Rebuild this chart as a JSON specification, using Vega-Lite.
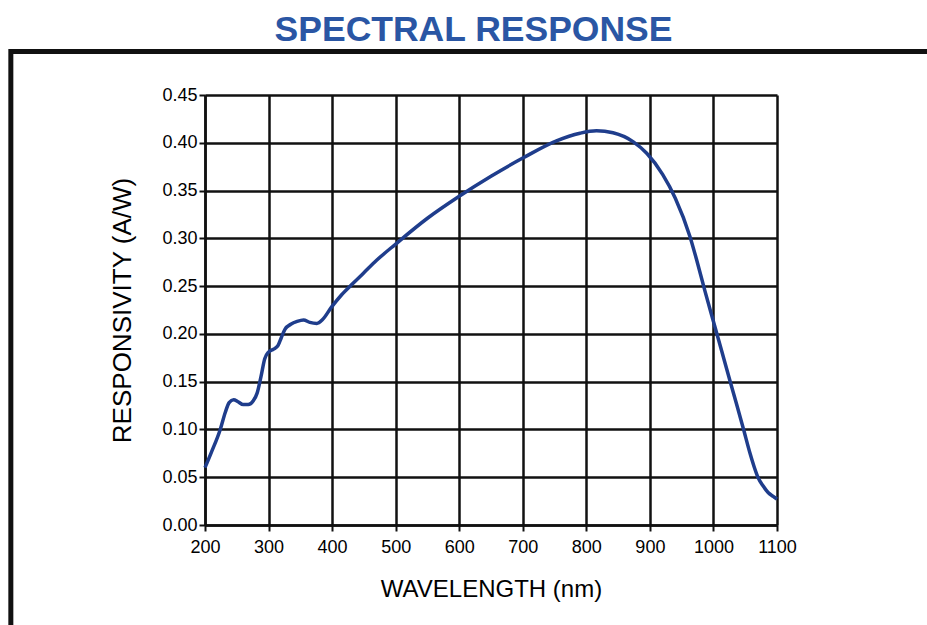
{
  "$schema": "https://vega.github.io/schema/vega-lite/v6.json",
  "autosize": {"type": "none"},
  "padding": {"left": 205, "top": 95, "right": 150, "bottom": 100},
  "width": 572,
  "height": 430,
  "background": "white",
  "config": {
    "view": {"stroke": null},
    "axis": {
      "labelFont": "Liberation Sans",
      "titleFont": "Liberation Sans",
      "labelColor": "#000",
      "titleColor": "#000",
      "titleFontWeight": "normal",
      "grid": true,
      "gridColor": "#111",
      "gridWidth": 2.5,
      "gridOpacity": 1,
      "domainColor": "#111",
      "domainWidth": 2.5,
      "tickColor": "#111",
      "tickWidth": 2,
      "tickSize": 6
    }
  },
  "data": {
    "values": [
      {"wavelength": 200, "responsivity": 0.060},
      {"wavelength": 210, "responsivity": 0.076},
      {"wavelength": 224, "responsivity": 0.100},
      {"wavelength": 232, "responsivity": 0.118},
      {"wavelength": 238, "responsivity": 0.128},
      {"wavelength": 245, "responsivity": 0.131},
      {"wavelength": 252, "responsivity": 0.129},
      {"wavelength": 260, "responsivity": 0.126},
      {"wavelength": 268, "responsivity": 0.126},
      {"wavelength": 276, "responsivity": 0.130},
      {"wavelength": 282, "responsivity": 0.138},
      {"wavelength": 288, "responsivity": 0.155},
      {"wavelength": 294, "responsivity": 0.174},
      {"wavelength": 300, "responsivity": 0.181},
      {"wavelength": 308, "responsivity": 0.184},
      {"wavelength": 315, "responsivity": 0.188},
      {"wavelength": 320, "responsivity": 0.196},
      {"wavelength": 326, "responsivity": 0.205},
      {"wavelength": 335, "responsivity": 0.210},
      {"wavelength": 345, "responsivity": 0.213},
      {"wavelength": 355, "responsivity": 0.2145},
      {"wavelength": 365, "responsivity": 0.212},
      {"wavelength": 376, "responsivity": 0.211},
      {"wavelength": 385, "responsivity": 0.215},
      {"wavelength": 399, "responsivity": 0.228},
      {"wavelength": 415, "responsivity": 0.241},
      {"wavelength": 433, "responsivity": 0.253},
      {"wavelength": 450, "responsivity": 0.264},
      {"wavelength": 470, "responsivity": 0.277},
      {"wavelength": 500, "responsivity": 0.294},
      {"wavelength": 550, "responsivity": 0.321},
      {"wavelength": 600, "responsivity": 0.344},
      {"wavelength": 650, "responsivity": 0.365},
      {"wavelength": 700, "responsivity": 0.384},
      {"wavelength": 753, "responsivity": 0.402},
      {"wavelength": 790, "responsivity": 0.410},
      {"wavelength": 816, "responsivity": 0.4126},
      {"wavelength": 842, "responsivity": 0.4105},
      {"wavelength": 874, "responsivity": 0.401},
      {"wavelength": 895, "responsivity": 0.389},
      {"wavelength": 920, "responsivity": 0.367},
      {"wavelength": 940, "responsivity": 0.342},
      {"wavelength": 963, "responsivity": 0.302},
      {"wavelength": 975, "responsivity": 0.274},
      {"wavelength": 987, "responsivity": 0.244},
      {"wavelength": 1000, "responsivity": 0.213},
      {"wavelength": 1013, "responsivity": 0.182},
      {"wavelength": 1026, "responsivity": 0.151},
      {"wavelength": 1037, "responsivity": 0.125},
      {"wavelength": 1047, "responsivity": 0.101},
      {"wavelength": 1058, "responsivity": 0.074},
      {"wavelength": 1064, "responsivity": 0.061},
      {"wavelength": 1070, "responsivity": 0.050},
      {"wavelength": 1078, "responsivity": 0.041},
      {"wavelength": 1086, "responsivity": 0.034},
      {"wavelength": 1094, "responsivity": 0.030},
      {"wavelength": 1100, "responsivity": 0.027}
    ]
  },
  "layer": [
    {
      "mark": {"type": "line", "color": "#1f3d8c", "strokeWidth": 3.5, "interpolate": "monotone"},
      "encoding": {
        "x": {
          "field": "wavelength",
          "type": "quantitative",
          "scale": {"domain": [200, 1100], "nice": false, "zero": false},
          "axis": {
            "title": "WAVELENGTH (nm)",
            "grid": true,
            "values": [200, 300, 400, 500, 600, 700, 800, 900, 1000, 1100],
            "format": "d",
            "labelFontSize": 18,
            "labelPadding": 7,
            "titleFontSize": 24,
            "titlePadding": 21,
            "labelFlush": false
          }
        },
        "y": {
          "field": "responsivity",
          "type": "quantitative",
          "scale": {"domain": [0, 0.45], "nice": false},
          "axis": {
            "title": "RESPONSIVITY (A/W)",
            "grid": true,
            "values": [0, 0.05, 0.1, 0.15, 0.2, 0.25, 0.3, 0.35, 0.4, 0.45],
            "format": ".2f",
            "labelFontSize": 18,
            "labelPadding": 2,
            "titleFontSize": 26,
            "titlePadding": 26,
            "labelFlush": false
          }
        }
      }
    },
    {
      "data": {"values": [{}]},
      "mark": {"type": "rect", "fill": null, "stroke": "#111", "strokeWidth": 5, "clip": false},
      "encoding": {
        "x": {"datum": -105.5, "type": "quantitative"},
        "x2": {"datum": 2000},
        "y": {"datum": 0.4955, "type": "quantitative"},
        "y2": {"datum": -0.5}
      }
    },
    {
      "data": {"values": [{"label": "SPECTRAL RESPONSE"}]},
      "mark": {
        "type": "text",
        "font": "Liberation Sans",
        "fontSize": 35.5,
        "fontWeight": "bold",
        "color": "#2a56a4",
        "align": "center",
        "baseline": "alphabetic",
        "clip": false
      },
      "encoding": {
        "text": {"field": "label"},
        "x": {"datum": 622.5, "type": "quantitative"},
        "y": {"datum": 0.5065, "type": "quantitative"}
      }
    }
  ]
}
